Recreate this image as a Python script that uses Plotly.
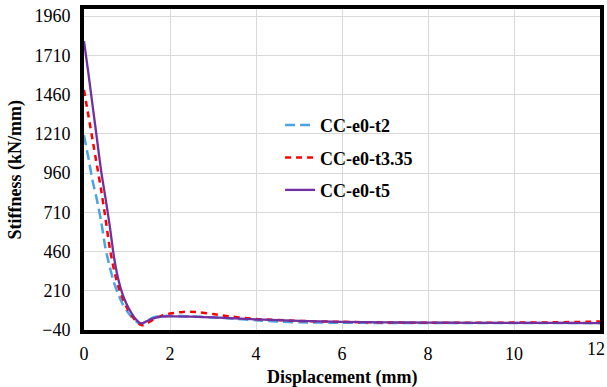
import plotly.graph_objects as go

x_t2 = [0, 0.1, 0.2, 0.3, 0.4, 0.5, 0.6, 0.7, 0.8, 0.9, 1.0, 1.1, 1.2, 1.3, 1.35, 1.45, 1.6, 1.75, 2.0, 2.5, 3.0, 3.5, 4.0, 4.5, 5.0, 6.0, 7.0, 8.0, 9.0, 10.0, 11.0, 12.0]
y_t2 = [1200, 1060, 910, 790, 650, 480, 360, 260, 185, 125, 80, 45, 18, 2, 0, 15, 38, 48, 50, 47, 40, 32, 22, 14, 9, 6, 5, 4, 4, 4, 4, 4]

x_t335 = [0, 0.1, 0.2, 0.3, 0.4, 0.5, 0.6, 0.7, 0.8, 0.9, 1.0, 1.1, 1.2, 1.3, 1.37, 1.45, 1.6, 1.8, 2.0, 2.3, 2.6, 3.0, 3.3, 4.0, 5.0, 6.0, 7.0, 8.0, 9.0, 10.0, 11.0, 12.0]
y_t335 = [1490, 1330, 1170, 1010, 850, 670, 480, 340, 235, 160, 100, 55, 20, -5, -10, 0, 25, 50, 65, 75, 75, 62, 50, 30, 18, 12, 8, 6, 6, 7, 9, 14]

x_t5 = [0, 0.1, 0.2, 0.3, 0.4, 0.5, 0.6, 0.7, 0.8, 0.9, 1.0, 1.1, 1.2, 1.3, 1.35, 1.45, 1.6, 1.8, 2.0, 2.5, 3.0, 4.0, 5.0, 6.0, 7.0, 8.0, 9.0, 10.0, 11.0, 12.0]
y_t5 = [1800, 1600, 1390, 1180, 970, 800, 620, 420, 280, 185, 120, 70, 30, 5, 2, 15, 33, 45, 47, 45, 40, 28, 18, 12, 9, 7, 6, 6, 5, 4]

names = ["CC-e0-t2", "CC-e0-t3.35", "CC-e0-t5"]
colors = ["#4BA3E3", "#FF0000", "#7030A0"]
x_ticks = [0, 2, 4, 6, 8, 10, 12]
x_title = "Displacement (mm)"
y_title = "Stiffness (kN/mm)"

FONT = "Liberation Serif, Times New Roman, serif"

fig = go.Figure()
fig.add_trace(go.Scatter(x=x_t2, y=y_t2, mode="lines", name=names[0], legendgroup="a",
                         line=dict(color=colors[0], width=2.5, dash="10px,5px", shape="spline", smoothing=0.6)))
fig.add_trace(go.Scatter(x=x_t335, y=y_t335, mode="lines", name=names[1], legendgroup="b",
                         line=dict(color=colors[1], width=2.5, dash="6px,5px", shape="spline", smoothing=0.6)))
fig.add_trace(go.Scatter(x=x_t5, y=y_t5, mode="lines", name=names[2], legendgroup="c",
                         line=dict(color=colors[2], width=2.3, shape="spline", smoothing=0.6)))

# last tick label drawn as an annotation, nudged so it stays inside the page
tick_text = [str(v) for v in x_ticks[:-1]] + [""]

fig.update_layout(
    width=607, height=387,
    margin=dict(l=84, r=7, t=9, b=57),
    paper_bgcolor="white", plot_bgcolor="white",
    font=dict(family=FONT, size=18, color="black"),
    showlegend=True,
    legend=dict(x=0.38, y=0.695, xanchor="left", yanchor="top",
                bgcolor="rgba(0,0,0,0)", tracegroupgap=6,
                font=dict(family=FONT, size=18, color="black", weight="bold")),
    xaxis=dict(range=[0, 12], tickvals=x_ticks, ticktext=tick_text, showgrid=True, gridcolor="#d9d9d9", gridwidth=1,
               showline=True, linecolor="black", linewidth=4, mirror=True, zeroline=False,
               ticks="", ticklabelstandoff=4, automargin=False, ticklabeloverflow="allow"),
    yaxis=dict(range=[-40, 2005], dtick=250, tick0=-40, showgrid=True, gridcolor="#d9d9d9", gridwidth=1,
               showline=True, linecolor="black", linewidth=4, mirror=True, zeroline=False,
               ticks="", ticklabelstandoff=6, automargin=False, ticklabeloverflow="allow"),
    annotations=[
        dict(text=str(x_ticks[-1]), xref="x", yref="paper", x=x_ticks[-1], y=0, yshift=-19, xshift=-4,
             xanchor="center", yanchor="middle", showarrow=False, font=dict(family=FONT, size=18)),
        dict(text="<b>" + x_title + "</b>", xref="paper", yref="paper", x=0.5, y=0, yshift=-47,
             xanchor="center", yanchor="middle", showarrow=False, font=dict(family=FONT, size=18)),
        dict(text="<b>" + y_title + "</b>", xref="paper", yref="paper", x=0, y=0.5, xshift=-69,
             xanchor="center", yanchor="middle", textangle=-90, showarrow=False, font=dict(family=FONT, size=18)),
    ],
)

fig.write_html("out.html")
